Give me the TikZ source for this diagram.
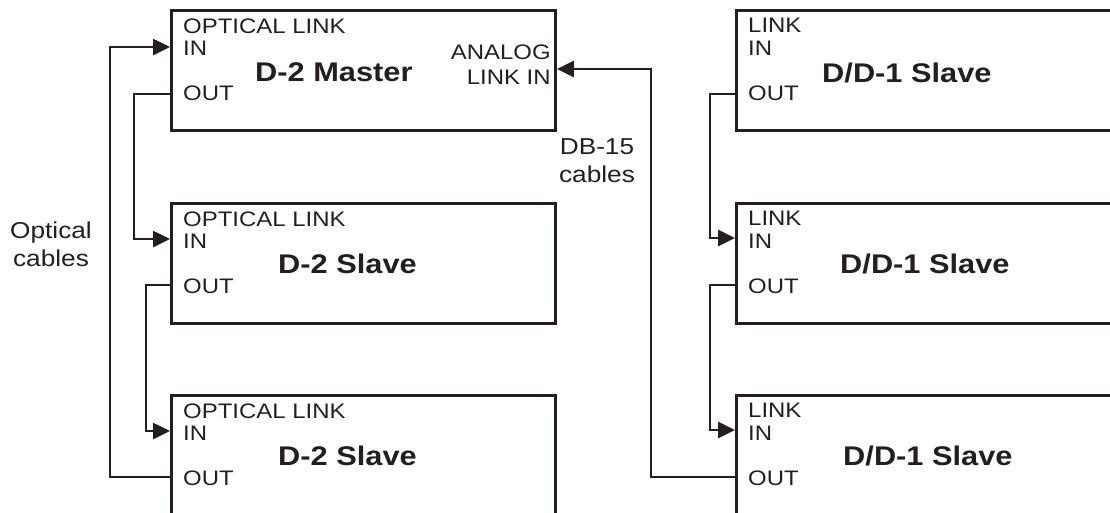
\documentclass[tikz,border=0pt]{standalone}
\usepackage{fontspec}
\setmainfont{Liberation Sans}
\usepackage{tikz}
\usetikzlibrary{
	arrows.meta,
	positioning
}
\usepackage{xcolor}
\definecolor{ink}{RGB}{35,31,32}

\begin{document}
\begin{tikzpicture}[>={Triangle[length=17pt,width=16pt]},x=1pt,y=-1pt,
		unitbox/.style={draw=ink,line width=2.9pt,minimum width=384pt,minimum height=120pt,inner sep=0pt,anchor=north west},
		widebox/.style={unitbox,minimum width=440pt},
		port/.style={font=\fontsize{21}{25}\selectfont,text=ink,xscale=1.14,inner sep=0pt,text height=15pt,text depth=0pt},
		devname/.style={font=\fontsize{27}{32}\bfseries,text=ink,xscale=1.14,inner sep=0pt,text height=19.3pt,text depth=0pt,anchor=west},
		note/.style={font=\fontsize{23}{28}\selectfont,text=ink,xscale=1.14,inner sep=0pt,align=center},
		wire/.style={draw=ink,line width=2.6pt,->}]
		
		\useasboundingbox (0,0) rectangle (1110,512);
		\clip (0,0) rectangle (1110,512);
		
		% D-2 units
		\node[unitbox] (master) at (170,9) {};
		\node[unitbox] (slave1) at (170,202) {};
		\node[unitbox,minimum height=140pt] (slave2) at (170,394) {};
		
		% D/D-1 units
		\node[widebox] (dd1) at (735,9) {};
		\node[widebox] (dd2) at (735,202) {};
		\node[widebox,minimum height=140pt] (dd3) at (735,394) {};
		
		% port labels
		\foreach \u in {master,slave1,slave2}{
			\node[port,anchor=west] (\u-top) at ([xshift=13pt,yshift=-17pt]\u.north west) {OPTICAL LINK};
			\node[port,anchor=west] (\u-in) at ([xshift=13pt,yshift=-39pt]\u.north west) {IN};
			\node[port,anchor=west] (\u-out) at ([xshift=13pt,yshift=-84pt]\u.north west) {OUT};
		}
		\foreach \u in {dd1,dd2,dd3}{
			\node[port,anchor=west] (\u-top) at ([xshift=13pt,yshift=-16pt]\u.north west) {LINK};
			\node[port,anchor=west] (\u-in) at ([xshift=13pt,yshift=-39pt]\u.north west) {IN};
			\node[port,anchor=west] (\u-out) at ([xshift=13pt,yshift=-84pt]\u.north west) {OUT};
		}
		\node[port,anchor=east] (analog) at ([xshift=-6pt,yshift=-43pt]master.north east) {ANALOG};
		\node[port,anchor=east] (linkin) at ([xshift=-6pt,yshift=-68pt]master.north east) {LINK IN};
		
		% unit names
		\node[devname] (master-name) at ([xshift=85pt,yshift=-63pt]master.north west) {D-2 Master};
		\node[devname] (slave1-name) at ([xshift=108pt,yshift=-62pt]slave1.north west) {D-2 Slave};
		\node[devname] (slave2-name) at ([xshift=108pt,yshift=-62pt]slave2.north west) {D-2 Slave};
		\node[devname] (dd1-name) at ([xshift=87pt,yshift=-64pt]dd1.north west) {D/D-1 Slave};
		\node[devname] (dd2-name) at ([xshift=105pt,yshift=-62pt]dd2.north west) {D/D-1 Slave};
		\node[devname] (dd3-name) at ([xshift=108pt,yshift=-62pt]dd3.north west) {D/D-1 Slave};
		
		% optical cables
		\draw[wire] ([yshift=-85pt]master.north west) -- ++(-36,0) |- ([yshift=-37pt]slave1.north west);
		\draw[wire] ([yshift=-83pt]slave1.north west) -- ++(-24,0) |- ([yshift=-37pt]slave2.north west);
		\draw[wire] ([yshift=-83pt]slave2.north west) -- ++(-60,0) |- ([yshift=-38pt]master.north west);
		
		% DB-15 cables
		\draw[wire] ([yshift=-85pt]dd1.north west) -- ++(-25,0) |- ([yshift=-36pt]dd2.north west);
		\draw[wire] ([yshift=-83pt]dd2.north west) -- ++(-25,0) |- ([yshift=-36pt]dd3.north west);
		\draw[wire] ([yshift=-83pt]dd3.north west) -- ++(-84,0) |- ([yshift=-60pt]master.north east);
		
		\node[note] (optical) at (51,244) {Optical\\cables};
		\node[note] (db15) at (597,161) {DB-15\\cables};
		
	\end{tikzpicture}
\end{document}
